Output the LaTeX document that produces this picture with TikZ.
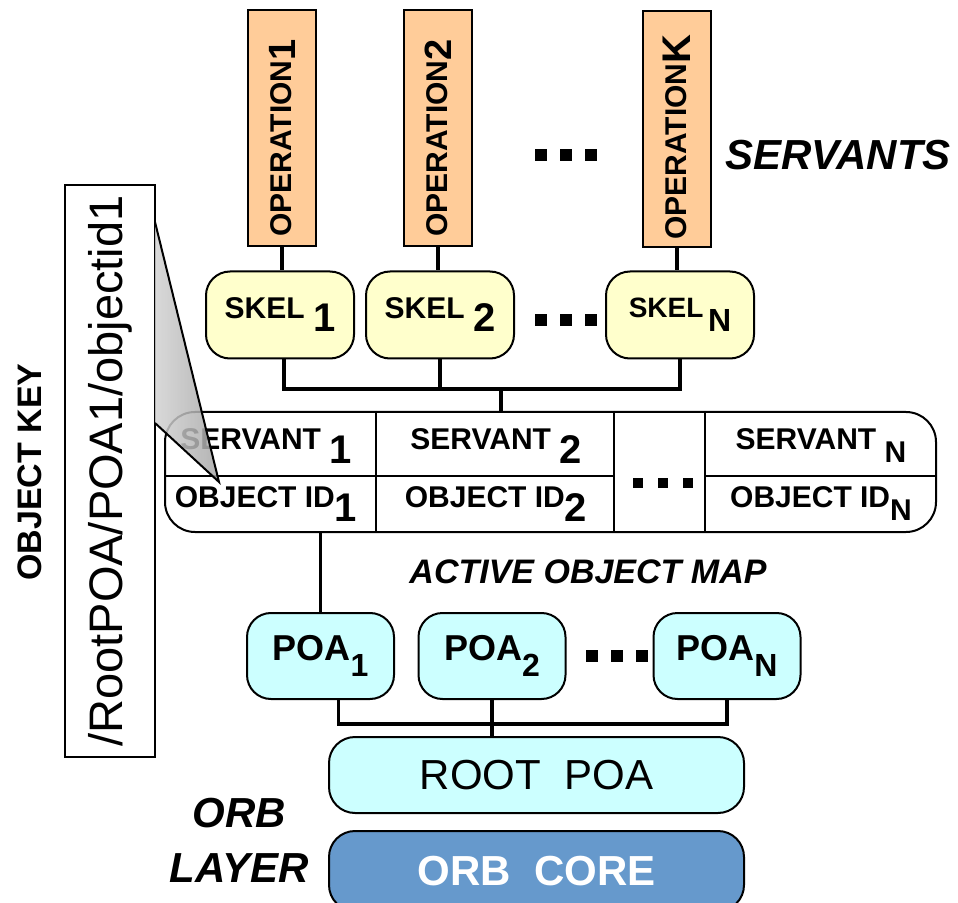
\documentclass[tikz,border=0pt]{standalone}
\usepackage{fontspec}
\setmainfont{Liberation Sans}
\usetikzlibrary{positioning}
\usepackage{xcolor}
\definecolor{opfill}{RGB}{255,204,153}
\definecolor{skelfill}{RGB}{255,255,204}
\definecolor{poafill}{RGB}{204,255,255}
\definecolor{corefill}{RGB}{102,153,204}
\newcommand{\fsz}[1]{\fontsize{#1}{#1}\selectfont}
\newcommand{\lowsub}[2]{\raisebox{-#1}{#2}}
\tikzset{
    opbox/.style={
        draw,line width=1pt,fill=opfill,rotate=90,inner sep=0pt,
        minimum width=118pt,minimum height=34pt,font=\fsz{15}\bfseries
    },
    skelbox/.style={
        draw,line width=1pt,fill=skelfill,rounded corners=12pt,
        minimum width=74pt,minimum height=43.5pt,font=\fsz{15}\bfseries
    },
    poabox/.style={
        draw,line width=1pt,fill=poafill,rounded corners=12pt,
        minimum width=73.5pt,minimum height=43pt,font=\fsz{18}\bfseries
    },
    layerbox/.style={
        draw,line width=1pt,fill=#1,rounded corners=13pt,
        minimum width=207.5pt,minimum height=38pt
    },
    layerbox/.default=poafill,
    cell/.style={font=\fsz{15}\bfseries,inner sep=0pt},
    tag/.style={font=\fsz{#1}\bfseries\itshape,align=center},
    wire/.style={line width=1.6pt}
}

\begin{document}
\begin{tikzpicture}[x=0.5pt,y=-0.5pt]
\useasboundingbox (0,0) rectangle (958,903);

% servants
\node[opbox] (op1) at (282,128) {OPERATION\lowsub{2pt}{\fsz{19}1}\kern10pt};
\node[opbox] (op2) at (438,128) {OPERATION\lowsub{2pt}{\fsz{19}2}\kern10pt};
\node[opbox] (opK) at (677,129) {OPERATION\lowsub{2pt}{\fsz{20}K}\kern8pt};
\node[tag=21] (servants) at (838,155) {SERVANTS};

\node[skelbox] (skel1) at (280,315) {SKEL \lowsub{6.5pt}{\fsz{20}1}};
\node[skelbox] (skel2) at (440,315) {SKEL \lowsub{6.5pt}{\fsz{20}2}};
\node[skelbox,font=\fsz{14}\bfseries] (skelN) at (680,315) {SKEL\,\lowsub{7pt}{\fsz{16}N}};

\foreach \x in {541,566,591} {
    \fill (\x-6,149) rectangle (\x+6,161);
    \fill (\x-6,314) rectangle (\x+6,326);
}

\draw[wire] (op1) -- (op1 |- skel1.north);
\draw[wire] (op2) -- (op2 |- skel2.north);
\draw[wire] (opK) -- (opK |- skelN.north);

% active object map
\node[draw,line width=1pt,rounded corners=15pt,inner sep=0pt,
minimum width=385.5pt,minimum height=60pt] (map) at (550.5,472) {};
\draw[line width=1pt] ([xshift=106pt]map.north west) -- ([xshift=106pt]map.south west);
\draw[line width=1pt] ([xshift=225pt]map.north west) -- ([xshift=225pt]map.south west);
\draw[line width=1pt] ([xshift=270.5pt]map.north west) -- ([xshift=270.5pt]map.south west);
\draw[line width=1pt] ([yshift=-32.5pt]map.north west) -- ([xshift=225pt,yshift=-32.5pt]map.north west);
\draw[line width=1pt] ([xshift=270.5pt,yshift=-32.5pt]map.north west) -- ([yshift=-32.5pt]map.north east);

\node[cell] (sv1) at (266,446) {SERVANT \lowsub{7pt}{\fsz{20}1}};
\node[cell] (sv2) at (496,446) {SERVANT \lowsub{7pt}{\fsz{20}2}};
\node[cell] (svN) at (821,446) {SERVANT \lowsub{6.5pt}{\fsz{15}N}};
\node[cell] (oid1) at (266,504) {OBJECT ID\lowsub{7pt}{\fsz{20}1}};
\node[cell] (oid2) at (496,504) {OBJECT ID\lowsub{7pt}{\fsz{20}2}};
\node[cell] (oidN) at (821,504) {OBJECT ID\lowsub{6.5pt}{\fsz{15}N}};
\foreach \x in {638,663,688}
    \fill (\x-5,478) rectangle (\x+5,488);

\node[tag=17] (aom) at (588,572) {ACTIVE OBJECT MAP};

\coordinate (sbus) at (501,389);
\draw[wire] ([xshift=2pt]skel1.south) |- (sbus) -| (skelN.south);
\draw[wire] (skel2.south) -- (skel2.south |- sbus);
\draw[wire] (sbus) -- (sbus |- map.north);

% object key
\node[draw,line width=1pt,fill=white,rotate=90,inner sep=0pt,
minimum width=286pt,minimum height=45pt,font=\fsz{23.5}]
(key) at (110,471) {/RootPOA/POA1/objectid1};
\node[rotate=90,font=\fsz{17}\bfseries] (objkey) at (30,472) {OBJECT KEY};

\coordinate (ktop) at (155,222);
\coordinate (kbot) at (155,423);
\coordinate (ktip) at (219,482);
\shade[left color=gray!35,right color=gray!70,fill opacity=0.85]
(ktop) -- (ktip) -- (kbot) -- cycle;
\draw[line width=1pt] (ktop) -- (ktip) -- (kbot);

% POAs
\node[poabox] (poa1) at (320.5,656) {POA\lowsub{8pt}{\fsz{16}1}};
\node[poabox] (poa2) at (492,656) {POA\lowsub{8pt}{\fsz{16}2}};
\node[poabox] (poaN) at (727,656) {POA\lowsub{8pt}{\fsz{16}N}};
\foreach \x in {592,617,642}
    \fill (\x-6,650) rectangle (\x+6,662);

\draw[wire] (poa1.north) -- (poa1.north |- map.south);

% orb layer
\node[layerbox,font=\fsz{21}] (root) at (536.5,775) {ROOT\ \ POA};
\node[layerbox=corefill,minimum height=40pt,font=\fsz{21}\bfseries,text=white]
(core) at (536.5,871) {ORB\ \ CORE};
\node[tag=21] (orblayer) at (239,840) {ORB\\[6.5pt]LAYER};

\coordinate (pbus) at (494,724);
\draw[wire] ([xshift=9pt]poa1.south) |- (pbus) -| (poaN.south);
\draw[wire] (poa2.south) -- (poa2.south |- root.north);

\end{tikzpicture}
\end{document}
